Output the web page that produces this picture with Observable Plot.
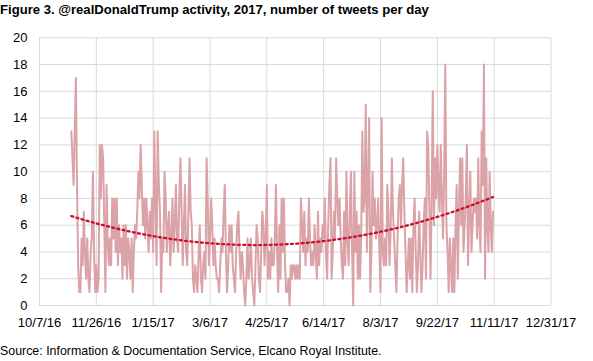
<!DOCTYPE html>
<html><head><meta charset="utf-8">
<script src="https://cdn.jsdelivr.net/npm/d3@7"></script>
<script src="https://cdn.jsdelivr.net/npm/@observablehq/plot@0.6"></script>
<style>
body{margin:0;background:#fff;font-family:"Liberation Sans",Arial,sans-serif;color:#000;}
#wrap{position:relative;width:593px;height:361px;overflow:hidden;}
#title{position:absolute;left:0;top:2px;font-weight:bold;font-size:13.1px;white-space:nowrap;}
#chart{position:absolute;left:0;top:24px;}
#source{position:absolute;left:0;top:344px;font-size:12.4px;white-space:nowrap;}
</style></head><body>
<div id="wrap">
<div id="title">Figure 3. @realDonaldTrump activity, 2017, number of tweets per day</div>
<div id="chart"></div>
<div id="source">Source: Information &amp; Documentation Service, Elcano Royal Institute.</div>
</div>
<script>
const firstDay = "2016-11-04";
// tweets per day, consecutive days
const tweetsNovJan = [13,11,9,13,17,9,3,1,1,5,3,7,4,2,5,2,1,4,5,10,4,1,3,1,2,12,8,12,11,6,1,9,5,3,5,3,8,5,8,4,8,3,6,4,5,2,6,3,6,2,5,4,2,5,1,4,6,5,7,10,8,12,9,6,8,5,8,6,4,7,5,8,4,13,8,3,13,9,7,1,5,4,10,8,4,6,7,3,5];
const tweetsFebApr = [8,4,6,9,5,4,8,11,7,3,6,9,4,3,7,11,7,6,2,1,3,2,1,4,6,2,1,3,4,2,11,8,3,5,8,6,3,5,3,2,2,1,3,5,4,7,9,4,1,3,6,4,6,3,2,1,4,6,7,4,2,4,3,1,0,2,5,2,3,5,2,1,0,3,6,5,2,1,4,7,6,3,5,9,2,4,2,5,3];
const tweetsMayJul = [3,5,9,4,1,6,2,8,4,8,3,1,1,2,0,3,2,3,3,2,3,2,3,2,8,6,4,7,3,5,4,8,5,3,4,3,6,4,2,7,3,5,4,6,5,8,4,2,6,9,11,2,4,7,5,11,8,6,8,5,3,2,7,3,10,5,3,7,10,4,0,10,4,7,2,6,2,5,13,7,8,15,4,9,14,1,4,10,6,8,5,6];
const tweetsAugNov = [8,4,1,14,4,3,5,3,9,7,3,6,11,7,5,3,1,5,8,9,6,9,11,7,4,1,3,5,2,5,1,6,8,4,1,3,7,4,1,3,6,8,2,13,12,7,2,8,16,6,11,8,12,9,7,12,8,5,10,18,6,4,1,5,3,1,5,1,6,9,2,7,11,6,11,4,6,8,12,3,7,10,4,6,8,7,8,5,11,6,4,13,9,18,2,11,6,4,10,6,4,7];
const xTickLabels = ["10/7/16","11/26/16","1/15/17","3/6/17","4/25/17","6/14/17","8/3/17","9/22/17","11/11/17","12/31/17"];
const yTicks = [0,2,4,6,8,10,12,14,16,18,20];

const parseMDY = s => { const [m,d,y] = s.split("/").map(Number); return new Date(Date.UTC(2000+y, m-1, d)); };
const tickDates = xTickLabels.map(parseMDY);
const labelOf = new Map(tickDates.map((d,i)=>[+d, xTickLabels[i]]));
const values = [].concat(tweetsNovJan, tweetsFebApr, tweetsMayJul, tweetsAugNov);
const t0 = Date.parse(firstDay + "T00:00:00Z");
const data = values.map((v,i)=>({date:new Date(t0 + i*864e5), v}));

// 2nd-order polynomial least-squares trend
const n = values.length;
let S = [0,0,0,0,0], T = [0,0,0];
values.forEach((v,i)=>{ const x=i/n; let p=1; for(let k=0;k<5;k++){S[k]+=p; if(k<3)T[k]+=v*p; p*=x;} });
function solve3(A,b){
  const M=A.map((r,i)=>[...r,b[i]]);
  for(let c=0;c<3;c++){let m=c;for(let r=c+1;r<3;r++)if(Math.abs(M[r][c])>Math.abs(M[m][c]))m=r;[M[c],M[m]]=[M[m],M[c]];
    for(let r=0;r<3;r++){if(r===c)continue;const f=M[r][c]/M[c][c];for(let k=c;k<4;k++)M[r][k]-=f*M[c][k];}}
  return M.map((r,i)=>r[3]/r[i]);
}
const co = solve3([[S[0],S[1],S[2]],[S[1],S[2],S[3]],[S[2],S[3],S[4]]], T);
const trend = data.map((d,i)=>{const x=i/n; return {date:d.date, v:co[0]+co[1]*x+co[2]*x*x};});

const grid = "#d9d9d9";
const chart = Plot.plot({
  width:593, height:309,
  marginLeft:39, marginRight:42.5, marginTop:13.3, marginBottom:28,
  style:{fontFamily:'"Liberation Sans",Arial,sans-serif', fontSize:"13px", color:"#000", background:"#fff"},
  x:{type:"utc", domain:[tickDates[0], tickDates[tickDates.length-1]]},
  y:{domain:[0,20]},
  marks:[
    Plot.gridX(tickDates,{stroke:grid, strokeOpacity:1, strokeWidth:1}),
    Plot.gridY(yTicks,{stroke:grid, strokeOpacity:1, strokeWidth:1}),
    Plot.axisX(tickDates,{tickSize:0, tickPadding:12.5, tickFormat:d=>labelOf.get(+d), label:null, fontSize:13}),
    Plot.axisY(yTicks,{tickSize:0, tickPadding:12, label:null, fontSize:13}),
    Plot.lineY(data,{x:"date", y:"v", stroke:"#dba2a7", strokeWidth:2}),
    Plot.lineY(trend,{x:"date", y:"v", stroke:"#c8102e", strokeWidth:2.3, strokeDasharray:"2 3.3"})
  ]
});
document.getElementById("chart").appendChild(chart);
</script>
</body></html>
